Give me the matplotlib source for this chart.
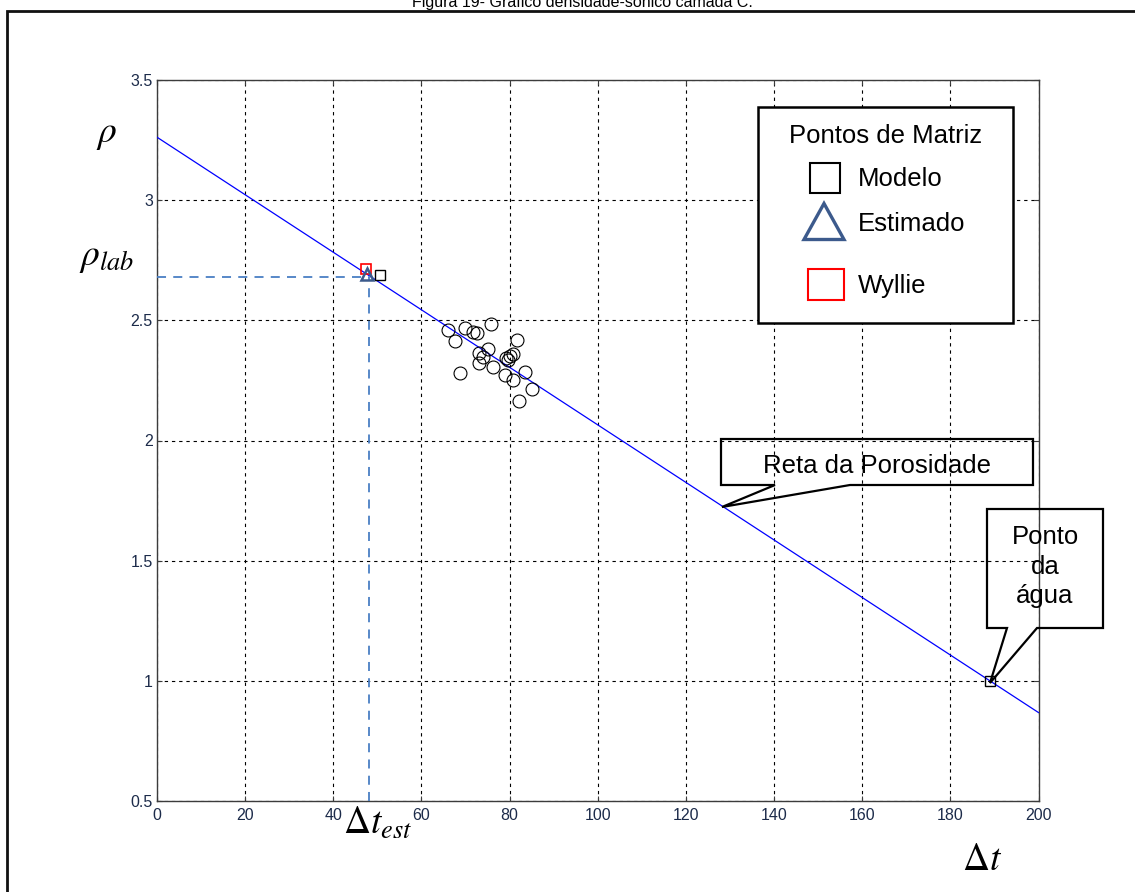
import matplotlib
matplotlib.use("Agg")
import matplotlib.pyplot as plt
from matplotlib.patches import Polygon, Rectangle

plt.rcParams['font.family'] = ['Liberation Sans', 'DejaVu Sans']
plt.rcParams['mathtext.fontset'] = 'stix'

# ---------------- data ----------------
title = "Figura 19- Gráfico densidade-sônico camada C."
xticks = [0, 20, 40, 60, 80, 100, 120, 140, 160, 180, 200]
yticks = [0.5, 1, 1.5, 2, 2.5, 3, 3.5]
ytick_labels = ["0.5", "1", "1.5", "2", "2.5", "3", "3.5"]

dt_scatter = [66.1, 67.5, 69.9, 71.8, 72.5, 75.8, 81.6, 68.7, 73.1, 75.2, 73.1,
              74.0, 76.3, 79.2, 80.1, 80.8, 79.7, 79.0, 80.8, 83.5, 85.0, 82.1]
rho_scatter = [2.460, 2.415, 2.467, 2.453, 2.448, 2.485, 2.418, 2.279, 2.363, 2.379, 2.321,
               2.348, 2.307, 2.342, 2.351, 2.360, 2.335, 2.272, 2.252, 2.286, 2.213, 2.165]

dt_line = [0, 200]
rho_line = [3.262, 0.868]

dt_modelo, rho_modelo = [50.6], [2.69]
dt_estimado, rho_estimado = [47.7], [2.692]
dt_wyllie, rho_wyllie = [47.4], [2.712]
dt_agua, rho_agua = [189], [1.0]
dt_est, rho_lab = 48.0, 2.681

# ---------------- figure ----------------
W, H = 1135, 892
fig = plt.figure(figsize=(W / 100, H / 100), dpi=100)
fig.patch.set_facecolor('white')

def P(x, y):
    return (x / W, 1 - y / H)

ax = fig.add_axes([157 / W, 1 - 801 / H, (1038.5 - 157) / W, (801 - 80) / H])
ax.set_xlim(0, 200)
ax.set_ylim(0.5, 3.5)
ax.set_xticks(xticks)
ax.set_xticklabels([str(t) for t in xticks])
ax.set_yticks(yticks)
ax.set_yticklabels(ytick_labels)
spine_c = '#3c3c3c'
for s in ax.spines.values():
    s.set_color(spine_c)
    s.set_linewidth(1.0)
ax.tick_params(direction='in', length=3.5, width=0.8, color=spine_c,
               top=True, right=True, labelsize=11.5, labelcolor='#1c2b4a')
ax.tick_params(axis='x', pad=5)
ax.tick_params(axis='y', pad=3)
ax.grid(True, color='black', linestyle=(0, (3, 3.5)), linewidth=0.8)
ax.set_axisbelow(True)

ax.plot(dt_line, rho_line, color='#0000ff', linewidth=0.9, zorder=3)
ax.plot(dt_scatter, rho_scatter, linestyle='none', marker='o', markersize=9.3,
        markerfacecolor='none', markeredgecolor='black', markeredgewidth=0.8, zorder=4)

# estimation dashed lines
ax.plot([0, dt_est], [rho_lab, rho_lab], color='#4a7fc4', linestyle=(0, (5, 4)),
        linewidth=1.3, zorder=3)
ax.plot([dt_est, dt_est], [0.5, rho_lab], color='#4a7fc4', linestyle=(0, (5, 4)),
        linewidth=1.3, zorder=3)

ax.plot(dt_modelo, rho_modelo, linestyle='none', marker='s', markersize=7,
        markerfacecolor='white', markeredgecolor='black', markeredgewidth=1.0, zorder=5)
ax.plot(dt_wyllie, rho_wyllie, linestyle='none', marker='s', markersize=7,
        markerfacecolor='none', markeredgecolor='red', markeredgewidth=1.2, zorder=6)
ax.plot(dt_estimado, rho_estimado, linestyle='none', marker='^', markersize=9,
        markerfacecolor='none', markeredgecolor='#3c5a8c', markeredgewidth=1.8, zorder=7)
ax.plot(dt_agua, rho_agua, linestyle='none', marker='s', markersize=6.5,
        markerfacecolor='none', markeredgecolor='black', markeredgewidth=1.0, zorder=5)

# ---------------- outer frame & title ----------------
fig.add_artist(Rectangle(P(7, 905), (1200) / W, (905 - 11) / H, transform=fig.transFigure,
                         fill=False, edgecolor='#111111', linewidth=2.0))
fig.text(*P(582, 7), title, ha='center', va='baseline', fontsize=11.5, color='black')

# ---------------- legend box ----------------
fig.add_artist(Rectangle(P(758, 323), (1013 - 758) / W, (323 - 107) / H,
                         transform=fig.transFigure, facecolor='white',
                         edgecolor='black', linewidth=1.8, zorder=10))
fs = 18.5
fig.text(*P(886, 143), "Pontos de Matriz", ha='center', va='baseline', fontsize=fs, zorder=11)
fig.add_artist(Rectangle(P(810, 192.5), 30 / W, 29 / H, transform=fig.transFigure,
                         fill=False, edgecolor='black', linewidth=1.5, zorder=11))
fig.text(*P(858, 186), "Modelo", ha='left', va='baseline', fontsize=fs, zorder=11)
fig.add_artist(Polygon([P(824, 203.5), P(804, 239.5), P(844, 239.5)], closed=True,
                       transform=fig.transFigure, fill=False, edgecolor='#3c5a8c',
                       linewidth=2.4, zorder=11))
fig.text(*P(858, 231), "Estimado", ha='left', va='baseline', fontsize=fs, zorder=11)
fig.add_artist(Rectangle(P(808, 300), 35.5 / W, 31 / H, transform=fig.transFigure,
                         fill=False, edgecolor='red', linewidth=1.5, zorder=11))
fig.text(*P(858, 292.5), "Wyllie", ha='left', va='baseline', fontsize=fs, zorder=11)

# ---------------- callouts ----------------
reta = [P(721, 439), P(1033, 439), P(1033, 485), P(850, 485), P(722, 507),
        P(775, 485), P(721, 485)]
fig.add_artist(Polygon(reta, closed=True, transform=fig.transFigure, fill=False,
                       edgecolor='black', linewidth=1.6, zorder=12))
fig.text(*P(877, 473), "Reta da Porosidade", ha='center', va='baseline', fontsize=fs, zorder=12)

agua = [P(987, 509), P(1103, 509), P(1103, 628), P(1037, 628), P(990, 683),
        P(1007, 628), P(987, 628)]
fig.add_artist(Polygon(agua, closed=True, transform=fig.transFigure, fill=False,
                       edgecolor='black', linewidth=1.6, zorder=12))
for txt, yb in [("Ponto", 544), ("da", 574), ("água", 603)]:
    fig.text(*P(1045, yb), txt, ha='center', va='baseline', fontsize=fs, zorder=12)

# ---------------- math labels ----------------
mfs = 27
fig.text(*P(107, 142), r"$\rho$", ha='center', va='baseline', fontsize=mfs)
fig.text(*P(107, 265), r"$\rho_{lab}$", ha='center', va='baseline', fontsize=mfs)
fig.text(*P(378, 834), r"$\Delta t_{est}$", ha='center', va='baseline', fontsize=mfs)
fig.text(*P(982, 870), r"$\Delta t$", ha='center', va='baseline', fontsize=mfs)

fig.savefig("out.png", dpi=100, facecolor='white')
